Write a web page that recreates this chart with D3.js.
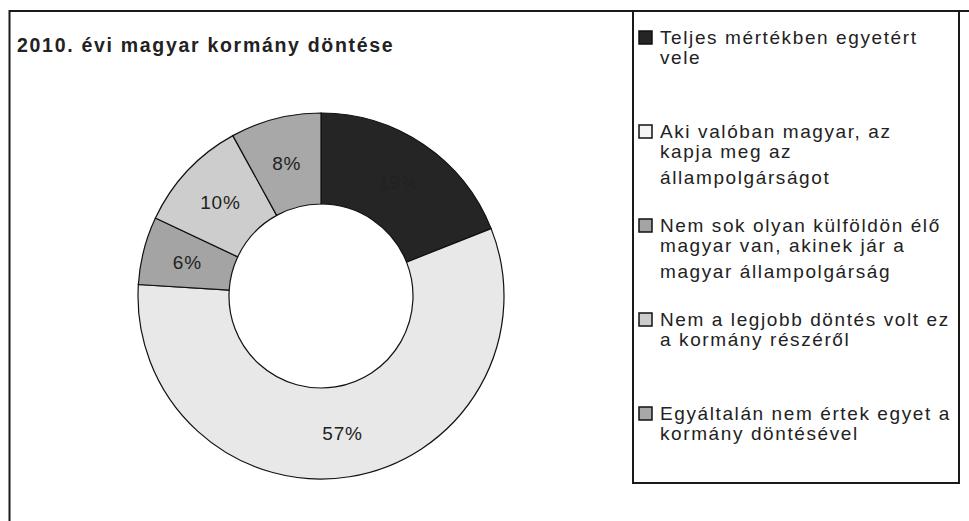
<!DOCTYPE html>
<meta charset="utf-8">
<script src="https://d3js.org/d3.v7.min.js"></script>
<style>
body { margin:0; background:#fff; }
text { font-family: "Liberation Sans", Arial, sans-serif; fill:#222; }
</style>
<body></body>
<script>

// slice order, clockwise from 12 o'clock
var labels = [
  ["Teljes  mértékben egyetért", "vele"],
  ["Aki valóban magyar, az", "kapja meg az", "állampolgárságot"],
  ["Nem sok olyan külföldön élő", "magyar van, akinek jár a", "magyar állampolgárság"],
  ["Nem a legjobb döntés volt ez", "a kormány részéről"],
  ["Egyáltalán nem értek egyet a", "kormány döntésével"]
];
var values = [19, 57, 6, 10, 8];
var colors = ["#252525", "#e8e8e8", "#a4a4a4", "#cdcdcd", "#a8a8a8"];
var swatchColors = ["#252525", "#f4f4f4", "#a4a4a4", "#cdcdcd", "#a8a8a8"];
var title = "2010. évi magyar kormány döntése";

var width = 969, height = 521;

var svg = d3.select("body").append("svg")
  .attr("width", width)
  .attr("height", height);

// outer frame (runs off the right and bottom)
svg.append("rect")
  .attr("x", 9.5).attr("y", 11)
  .attr("width", 980).attr("height", 540)
  .attr("fill", "none").attr("stroke", "#1a1a1a").attr("stroke-width", 2);

svg.append("text")
  .attr("x", 17).attr("y", 52)
  .attr("font-size", 19.5).attr("font-weight", "bold")
  .attr("letter-spacing", 1.7)
  .text(title);

// donut
var cx = 321, cy = 296, rOuter = 183, rInner = 92;

var pie = d3.pie().sort(null).value(function(d) { return d; });
var arc = d3.arc().innerRadius(rInner).outerRadius(rOuter);
var labelArc = d3.arc().innerRadius(rInner + 46).outerRadius(rInner + 46);

var g = svg.append("g").attr("transform", "translate(" + cx + "," + cy + ")");

var slices = g.selectAll(".slice")
  .data(pie(values)).enter().append("g")
  .attr("class", "slice");

slices.append("path")
  .attr("d", arc)
  .attr("fill", function(d, i) { return colors[i]; })
  .attr("stroke", "#111")
  .attr("stroke-width", 1.2);

slices.append("text")
  .attr("transform", function(d) { return "translate(" + labelArc.centroid(d) + ")"; })
  .attr("text-anchor", "middle")
  .attr("dy", "0.38em")
  .attr("font-size", 19)
  .attr("letter-spacing", 0.8)
  .text(function(d) { return d.value + "%"; });

// legend
svg.append("rect")
  .attr("x", 633).attr("y", 11)
  .attr("width", 326).attr("height", 472)
  .attr("fill", "#fff").attr("stroke", "#1a1a1a").attr("stroke-width", 2);

var legend = svg.selectAll(".legend")
  .data(labels).enter().append("g")
  .attr("class", "legend")
  .attr("transform", function(d, i) { return "translate(0," + (37 + i * 94) + ")"; });

legend.append("rect")
  .attr("x", 639).attr("y", -6)
  .attr("width", 13).attr("height", 13)
  .attr("fill", function(d, i) { return swatchColors[i]; })
  .attr("stroke", "#111").attr("stroke-width", 1.5);

legend.each(function(lines) {
  var t = d3.select(this).append("text")
    .attr("x", 660).attr("y", 0)
    .attr("font-size", 19)
    .attr("letter-spacing", 1.6)
    .attr("dy", "0.36em");
  lines.forEach(function(line, j) {
    t.append("tspan").attr("x", 660).attr("y", j * 26.5).text(line);
  });
});

</script>
